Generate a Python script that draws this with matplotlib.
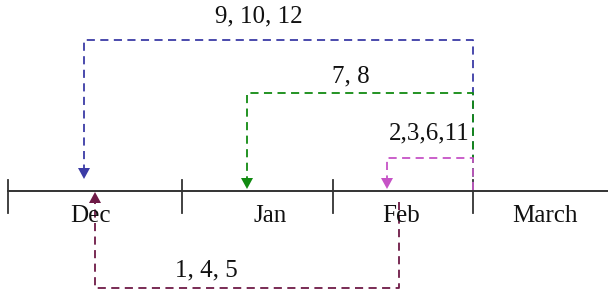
import matplotlib
matplotlib.use("Agg")
import matplotlib.pyplot as plt

# timeline (pixel-like units, y grows downward)
months = ["Dec", "Jan", "Feb", "March"]
month_label_x = [90, 270, 401, 545]
boundaries = [8, 182, 333, 473]
axis_end = 608
axis_y = 190.5

# arrow groups: label, start x, target x, level y, colour
group_labels = ["9, 10, 12", "7, 8", "2,3,6,11", "1, 4, 5"]
group_start_x = [473, 473, 473, 399]
group_target_x = [84, 247, 387, 95]
group_level_y = [40, 93, 158, 288]
group_label_pos = [(259, 16), (351, 76), (429, 133), (206, 270)]
group_colors = ["#3b3ba6", "#118a11", "#c653c6", "#6e1a47"]
group_tip_y = [179, 189, 189, 192]
group_start_y = [190, 190, 190, 202]

plt.rcParams['font.family'] = ['Liberation Serif', 'DejaVu Serif']

fig = plt.figure(figsize=(6.08, 2.94), dpi=100)
ax = fig.add_axes([0, 0, 1, 1])
ax.set_xlim(0, 608)
ax.set_ylim(294, 0)
ax.axis('off')

# main axis and month boundaries
ax.plot([boundaries[0], axis_end], [axis_y, axis_y], color='#333333', lw=1.4)
for bx in boundaries:
    ax.plot([bx, bx], [axis_y - 11, axis_y + 22], color='#333333', lw=1.3)
for name, mx in zip(months, month_label_x):
    ax.text(mx, axis_y + 26, name, fontsize=18, ha='center', va='center', color='#111111')

# dashed connectors with triangular heads
head = 11
for lab, sx, tx, ly, lp, c, ty, sy in zip(group_labels, group_start_x, group_target_x,
                                           group_level_y, group_label_pos, group_colors,
                                           group_tip_y, group_start_y):
    up = ly > axis_y  # path below the axis points upward
    base = ty + head if up else ty - head
    ax.plot([sx, sx, tx, tx], [sy, ly, ly, base], color=c, lw=1.3,
            ls=(0, (4.5, 3)))
    tri_x = [tx - 6, tx + 6, tx]
    tri_y = [base, base, ty]
    ax.fill(tri_x, tri_y, color=c, lw=0)
    ax.text(lp[0], lp[1], lab, fontsize=18, ha='center', va='center', color='#111111')

fig.savefig("out.png", dpi=100)
